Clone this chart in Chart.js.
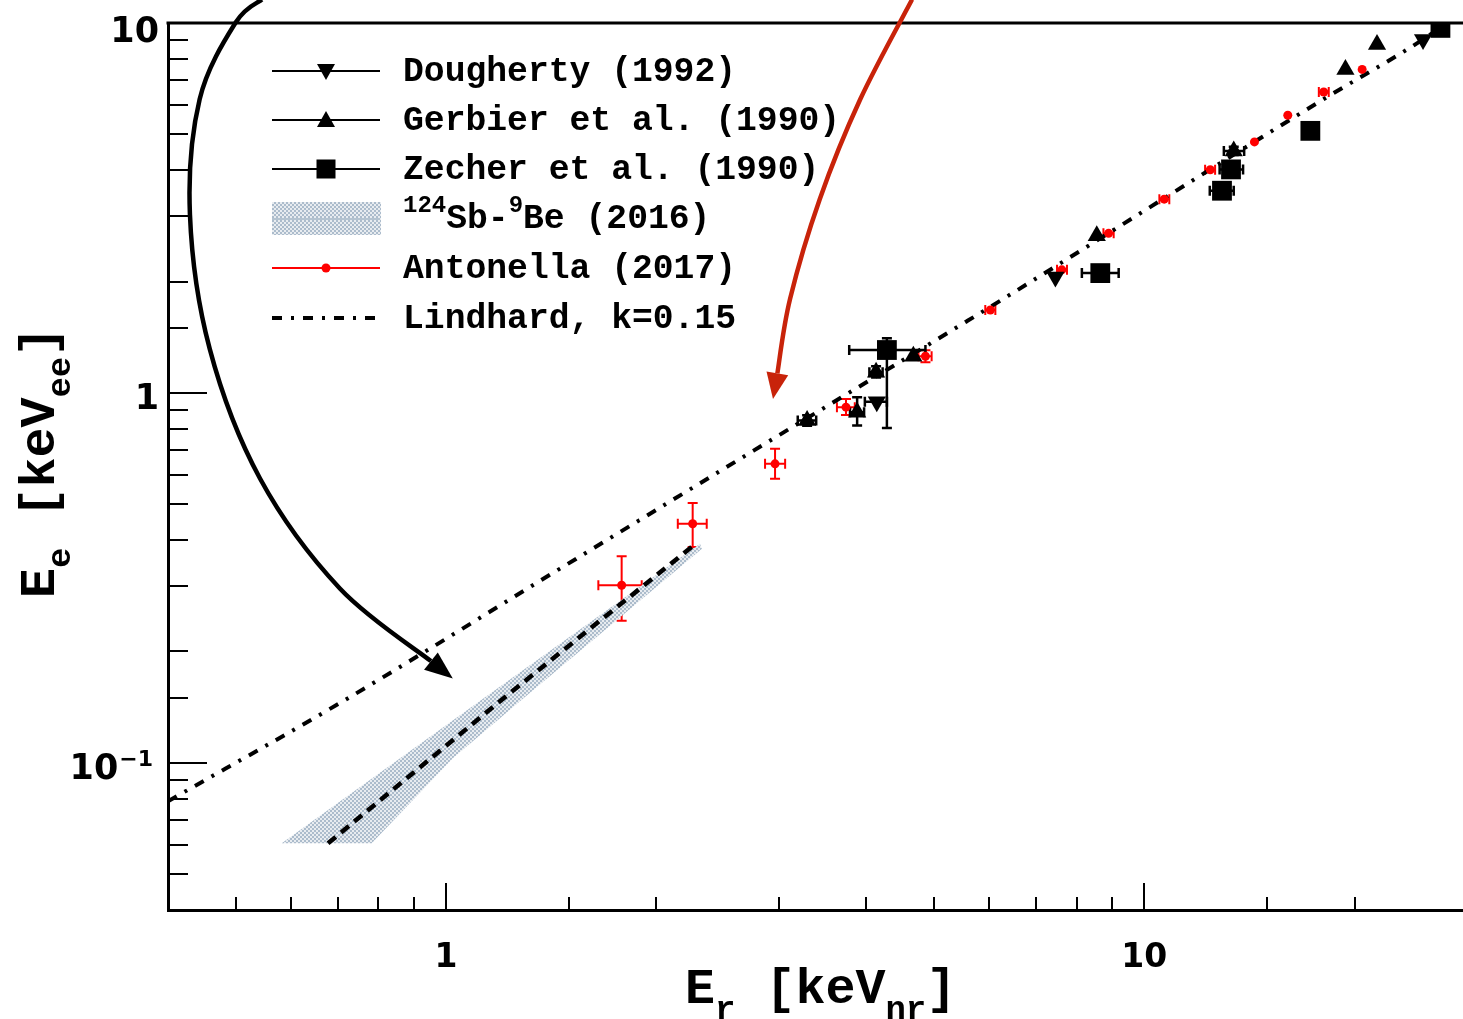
<!DOCTYPE html>
<html lang="en">
<head>
<meta charset="UTF-8">
<title>Quenching: Ee vs Er</title>
<script src="https://cdn.jsdelivr.net/npm/chart.js@4"></script>
<style>
  html, body { margin: 0; padding: 0; background: #fff; overflow: hidden; }
  #qf { display: block; }
</style>
</head>
<body>
<canvas id="qf" width="1463" height="1019"></canvas>
<script>
// ---- data (Er in keVnr, Ee in keVee) ----
const lindhardX = [0.4, 0.709, 1.457, 2.754, 5.576, 6.22, 17.87, 25.43, 26.5];
const lindhardY = [0.0787, 0.146, 0.335, 0.697, 1.564, 1.775, 6.15, 9.19, 9.72];

// 124Sb-9Be band outline (upper edge then lower edge back) and its central line
const sbBandX = [0.582, 1.13, 2.311, 2.326, 1.289, 1.023, 0.783, 0.582];
const sbBandY = [0.0606, 0.149, 0.391, 0.379, 0.149, 0.1028, 0.0606, 0.0606];
const sbLineX = [0.678, 1.207, 2.259];
const sbLineY = [0.0606, 0.149, 0.386];

const doughertyX = [4.14, 7.46, 25.07];
const doughertyY = [0.947, 2.056, 9.03];
const doughertyXErr = [[3.98, 4.28], null, null];
const doughertyYErr = [null, null, null];

const gerbierX = [3.29, 3.88, 4.13, 4.67, 8.55, 13.43, 19.41, 21.54];
const gerbierY = [0.842, 0.887, 1.137, 1.256, 2.66, 4.51, 7.49, 8.75];
const gerbierXErr = [[3.19, 3.39], [3.79, 3.97], [4.04, 4.22], null, null, [13.0, 13.9], null, null];
const gerbierYErr = [[0.815, 0.87], [0.816, 0.974], [1.1, 1.18], null, null, [4.4, 4.63], null, null];

const zecherX = [4.28, 8.65, 12.92, 13.31, 17.29, 26.55];
const zecherY = [1.306, 2.108, 3.52, 4.02, 5.11, 9.70];
const zecherXErr = [[3.78, 4.86], [8.14, 9.19], [12.41, 13.43], [12.82, 13.85], null, null];
const zecherYErr = [[0.804, 1.405], null, null, null, null, null];

const antonellaX = [1.785, 2.256, 2.96, 3.74, 4.86, 6.02, 7.62, 8.89, 10.68, 12.43, 14.38, 16.05, 18.07, 20.51];
const antonellaY = [0.302, 0.443, 0.643, 0.915, 1.256, 1.675, 2.151, 2.70, 3.34, 4.01, 4.77, 5.63, 6.51, 7.49];
const antonellaXErr = [[1.653, 1.907], [2.148, 2.363], [2.864, 3.06], [3.63, 3.85], [4.75, 4.96], [5.92, 6.12],
  [7.50, 7.75], [8.74, 9.04], [10.51, 10.86], [12.22, 12.63], null, null, [17.78, 18.37], null];
const antonellaYErr = [[0.242, 0.362], [0.383, 0.504], [0.586, 0.706], [0.871, 0.962], [1.21, 1.304], null,
  null, null, null, null, null, null, null, null];

// annotation arrows, in data units
const blackArrowX = [0.545, 0.500, 0.444, 0.430, 0.459, 0.542, 0.705, 1.023];
const blackArrowY = [11.57, 10.03, 6.22, 3.04, 1.315, 0.586, 0.296, 0.169];
const redArrowX = [4.65, 3.92, 3.43, 3.11, 2.94];
const redArrowY = [11.57, 6.22, 3.34, 1.794, 0.963];

// tick labels
const xTickVals = [1, 10];
const xTickText = ['1', '10'];
const yTickVals = [10, 1, 0.1];
const yTickText = [['10', ''], ['1', ''], ['10', '\u22121']];

const legendLabels = ['Dougherty (1992)', 'Gerbier et al. (1990)', 'Zecher et al. (1990)',
  'Sb-Be (2016)', 'Antonella (2017)', 'Lindhard, k=0.15'];

const pts = (xs, ys) => xs.map((x, i) => ({ x: x, y: ys[i] }));
const MONO = '"Liberation Mono", "DejaVu Sans Mono", monospace';
const SANS = '"DejaVu Sans", sans-serif';
const isPow10 = v => Math.abs(Math.log10(v) - Math.round(Math.log10(v))) < 1e-6;

// checkered fill like the ROOT hatch
const patCanvas = document.createElement('canvas');
patCanvas.width = 4; patCanvas.height = 4;
const pctx = patCanvas.getContext('2d');
pctx.fillStyle = 'rgb(232,236,240)';
pctx.fillRect(0, 0, 4, 4);
pctx.fillStyle = 'rgb(172,188,204)';
pctx.fillRect(0, 0, 2, 2);
pctx.fillRect(2, 2, 2, 2);
const bandPattern = pctx.createPattern(patCanvas, 'repeat');

const errors = {
  3: { xe: antonellaXErr, ye: antonellaYErr, color: '#ff0000', w: 2 },
  4: { xe: doughertyXErr, ye: doughertyYErr, color: '#000', w: 2.5 },
  5: { xe: gerbierXErr, ye: gerbierYErr, color: '#000', w: 2.5 },
  6: { xe: zecherXErr, ye: zecherYErr, color: '#000', w: 2.5 }
};

const errorBars = {
  id: 'errorBars',
  beforeDatasetsDraw(chart) {
    const ctx = chart.ctx, xs = chart.scales.x, ys = chart.scales.y;
    ctx.save();
    Object.keys(errors).forEach(k => {
      const e = errors[k];
      const data = chart.data.datasets[k].data;
      ctx.strokeStyle = e.color;
      ctx.lineWidth = e.w;
      data.forEach((p, i) => {
        const px = xs.getPixelForValue(p.x), py = ys.getPixelForValue(p.y);
        ctx.beginPath();
        if (e.xe[i]) {
          const a = xs.getPixelForValue(e.xe[i][0]), b = xs.getPixelForValue(e.xe[i][1]);
          ctx.moveTo(a, py); ctx.lineTo(b, py);
          ctx.moveTo(a, py - 5); ctx.lineTo(a, py + 5);
          ctx.moveTo(b, py - 5); ctx.lineTo(b, py + 5);
        }
        if (e.ye[i]) {
          const a = ys.getPixelForValue(e.ye[i][0]), b = ys.getPixelForValue(e.ye[i][1]);
          ctx.moveTo(px, a); ctx.lineTo(px, b);
          ctx.moveTo(px - 5, a); ctx.lineTo(px + 5, a);
          ctx.moveTo(px - 5, b); ctx.lineTo(px + 5, b);
        }
        ctx.stroke();
      });
    });
    ctx.restore();
  }
};

function drawParts(ctx, parts, x, y, size, family) {
  // parts: [text, mode] mode 0 normal, -1 subscript, 1 superscript
  let cx = x;
  parts.forEach(([t, m]) => {
    const s = m === 0 ? size : Math.round(size * 0.68);
    ctx.font = 'bold ' + s + 'px ' + (family || MONO);
    const dy = m === -1 ? size * 0.32 : m === 1 ? -size * 0.45 : 0;
    ctx.fillText(t, cx, y + dy);
    cx += ctx.measureText(t).width;
  });
  return cx - x;
}

function spline(ctx, p) {
  ctx.moveTo(p[0][0], p[0][1]);
  for (let i = 0; i < p.length - 1; i++) {
    const p0 = p[i - 1] || p[i], p1 = p[i], p2 = p[i + 1], p3 = p[i + 2] || p2;
    ctx.bezierCurveTo(p1[0] + (p2[0] - p0[0]) / 6, p1[1] + (p2[1] - p0[1]) / 6,
      p2[0] - (p3[0] - p1[0]) / 6, p2[1] - (p3[1] - p1[1]) / 6, p2[0], p2[1]);
  }
}
function arrow(chart, xsArr, ysArr, color, width, headL, headW) {
  const ctx = chart.ctx, xs = chart.scales.x, ys = chart.scales.y;
  const p = xsArr.map((x, i) => [xs.getPixelForValue(x), ys.getPixelForValue(ysArr[i])]);
  const tip = p[p.length - 1], prev = p[p.length - 2];
  const ang = Math.atan2(tip[1] - prev[1], tip[0] - prev[0]);
  const bx = tip[0] - Math.cos(ang) * headL, by = tip[1] - Math.sin(ang) * headL;
  const q = p.slice(0, -1).concat([[bx, by]]);
  ctx.save();
  ctx.strokeStyle = color; ctx.fillStyle = color; ctx.lineWidth = width;
  ctx.beginPath(); spline(ctx, q); ctx.stroke();
  ctx.beginPath();
  ctx.moveTo(tip[0], tip[1]);
  ctx.lineTo(bx + Math.sin(ang) * headW / 2, by - Math.cos(ang) * headW / 2);
  ctx.lineTo(bx - Math.sin(ang) * headW / 2, by + Math.cos(ang) * headW / 2);
  ctx.closePath(); ctx.fill();
  ctx.restore();
}

const decorations = {
  id: 'decorations',
  afterDraw(chart) {
    const ctx = chart.ctx, a = chart.chartArea, xs = chart.scales.x, ys = chart.scales.y;
    ctx.save();
    // top frame
    ctx.strokeStyle = '#000'; ctx.lineWidth = 3;
    ctx.beginPath(); ctx.moveTo(a.left - 1.5, a.top); ctx.lineTo(a.right, a.top); ctx.stroke();
    // inward ticks
    ctx.lineWidth = 2;
    ctx.beginPath();
    xs.ticks.forEach(t => {
      if (t.value <= xs.min || t.value >= xs.max) return;
      const p = Math.round(xs.getPixelForValue(t.value));
      const len = isPow10(t.value) ? 27 : 13;
      ctx.moveTo(p, a.bottom); ctx.lineTo(p, a.bottom - len);
    });
    ys.ticks.forEach(t => {
      if (t.value <= ys.min || t.value > ys.max) return;
      const p = Math.round(ys.getPixelForValue(t.value));
      const len = isPow10(t.value) ? 39 : 20;
      ctx.moveTo(a.left, p); ctx.lineTo(a.left + len, p);
    });
    ctx.stroke();

    // tick labels
    ctx.fillStyle = '#000';
    ctx.textBaseline = 'alphabetic';
    ctx.textAlign = 'center';
    ctx.font = 'bold 33px ' + SANS;
    xTickVals.forEach((v, i) => ctx.fillText(xTickText[i], xs.getPixelForValue(v), a.bottom + 57));
    ctx.textAlign = 'left';
    yTickVals.forEach((v, i) => {
      const [main, sup] = yTickText[i];
      ctx.font = 'bold 35px ' + SANS;
      const wm = ctx.measureText(main).width;
      ctx.font = 'bold 22px ' + SANS;
      const ws = sup ? ctx.measureText(sup).width + 2 : 0;
      const right = sup ? 154 : 159;
      const base = ys.getPixelForValue(v) + 16;
      ctx.font = 'bold 35px ' + SANS;
      ctx.fillText(main, right - ws - wm, base + (v === 10 ? 3 : 0));
      if (sup) {
        ctx.font = 'bold 22px ' + SANS;
        ctx.fillText(sup, right - ws + 1, base - 13);
      }
    });

    // axis titles
    const xt = [['E', 0], ['r', -1], [' [keV', 0], ['nr', -1], [']', 0]];
    drawParts(ctx, xt, 685, 1003, 50);
    const yt = [['E', 0], ['e', -1], [' [keV', 0], ['ee', -1], [']', 0]];
    ctx.save();
    ctx.translate(54, 598);
    ctx.rotate(-Math.PI / 2);
    drawParts(ctx, yt, 0, 0, 50);
    ctx.restore();

    // legend
    const rows = [71, 120, 169, 218, 268, 318];
    const lx0 = 272, lx1 = 380, mx = 326, tx = 403;
    ctx.lineWidth = 2;
    ctx.strokeStyle = '#000';
    [0, 1, 2].forEach(i => {
      ctx.beginPath(); ctx.moveTo(lx0, rows[i]); ctx.lineTo(lx1, rows[i]); ctx.stroke();
    });
    ctx.beginPath(); // down triangle
    ctx.moveTo(mx - 9, rows[0] - 7); ctx.lineTo(mx + 9, rows[0] - 7); ctx.lineTo(mx, rows[0] + 9); ctx.fill();
    ctx.beginPath(); // up triangle
    ctx.moveTo(mx - 9, rows[1] + 7); ctx.lineTo(mx + 9, rows[1] + 7); ctx.lineTo(mx, rows[1] - 9); ctx.fill();
    ctx.fillRect(mx - 9.5, rows[2] - 9.5, 19, 19);
    ctx.fillStyle = bandPattern;
    ctx.fillRect(lx0, rows[3] - 16, lx1 - lx0 + 1, 33);
    ctx.strokeStyle = 'rgb(180,195,208)';
    ctx.beginPath(); ctx.moveTo(lx0, rows[3] + 1); ctx.lineTo(lx1, rows[3] + 1); ctx.stroke();
    ctx.strokeStyle = '#ff0000'; ctx.fillStyle = '#ff0000';
    ctx.beginPath(); ctx.moveTo(lx0, rows[4]); ctx.lineTo(lx1, rows[4]); ctx.stroke();
    ctx.beginPath(); ctx.arc(mx, rows[4], 4.5, 0, Math.PI * 2); ctx.fill();
    ctx.strokeStyle = '#000'; ctx.lineWidth = 4;
    ctx.setLineDash([10, 9, 3, 9]);
    ctx.beginPath(); ctx.moveTo(lx0, rows[5]); ctx.lineTo(lx1, rows[5]); ctx.stroke();
    ctx.setLineDash([]);

    ctx.fillStyle = '#000';
    legendLabels.forEach((t, i) => {
      const base = rows[i] + 10;
      if (i === 3) {
        drawParts(ctx, [['124', 1], ['Sb-', 0], ['9', 1], ['Be (2016)', 0]], tx, base, 34.7);
      } else {
        ctx.font = 'bold 34.7px ' + MONO;
        ctx.fillText(t, tx, base);
      }
    });

    // annotation arrows
    arrow(chart, blackArrowX, blackArrowY, '#000', 4.5, 28, 22);
    arrow(chart, redArrowX, redArrowY, 'rgb(200,35,10)', 4.5, 26, 22);
    ctx.restore();
  }
};

const noPad = s => { s.paddingLeft = 0; s.paddingRight = 0; s.paddingTop = 0; s.paddingBottom = 0; };

new Chart(document.getElementById('qf'), {
  type: 'line',
  data: {
    datasets: [
      { data: pts(lindhardX, lindhardY), borderColor: '#000', borderWidth: 4,
        borderDash: [10, 9, 3, 9], pointRadius: 0, cubicInterpolationMode: 'monotone', order: 5 },
      { data: pts(sbLineX, sbLineY), borderColor: '#000', borderWidth: 4.5,
        borderDash: [10, 7], pointRadius: 0, order: 6 },
      { data: pts(sbBandX, sbBandY), borderWidth: 0, borderColor: 'rgba(0,0,0,0)',
        backgroundColor: bandPattern, fill: 'shape', pointRadius: 0, order: 7 },
      { data: pts(antonellaX, antonellaY), showLine: false, pointStyle: 'circle', pointRadius: 4.5,
        backgroundColor: '#ff0000', borderColor: '#ff0000', borderWidth: 0, order: 3 },
      { data: pts(doughertyX, doughertyY), showLine: false, pointStyle: 'triangle', rotation: 180,
        pointRadius: 10.5, backgroundColor: '#000', borderColor: '#000', borderWidth: 0, order: 1 },
      { data: pts(gerbierX, gerbierY), showLine: false, pointStyle: 'triangle', pointRadius: 10.5,
        backgroundColor: '#000', borderColor: '#000', borderWidth: 0, order: 2 },
      { data: pts(zecherX, zecherY), showLine: false, pointStyle: 'rect', pointRadius: 14,
        backgroundColor: '#000', borderColor: '#000', borderWidth: 0, order: 0 }
    ]
  },
  options: {
    responsive: false,
    animation: false,
    events: [],
    layout: { autoPadding: false, padding: { top: 23, right: 0, left: 0, bottom: 0 } },
    plugins: { legend: { display: false }, tooltip: { enabled: false } },
    scales: {
      x: {
        type: 'logarithmic', min: 0.4, max: 28.6,
        grid: { display: false },
        border: { display: true, color: '#000', width: 3 },
        ticks: { display: false, autoSkip: false },
        afterFit: s => { s.height = 109; noPad(s); }
      },
      y: {
        type: 'logarithmic', min: 0.04, max: 10,
        grid: { display: false },
        border: { display: true, color: '#000', width: 3 },
        ticks: { display: false, autoSkip: false },
        afterFit: s => { s.width = 168; noPad(s); }
      }
    }
  },
  plugins: [errorBars, decorations]
});
</script>
</body>
</html>
